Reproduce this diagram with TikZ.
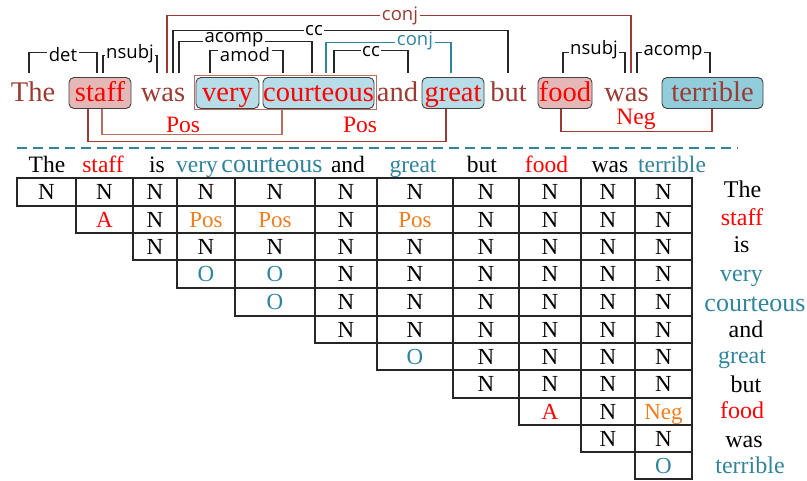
\documentclass[tikz,border=0pt]{standalone}
\usepackage{fontspec}
\setmainfont{Liberation Serif}
\newfontfamily\lblfont{Open Sans}
\usetikzlibrary{backgrounds}

\definecolor{brn}{RGB}{155,60,52}
\definecolor{brnlight}{RGB}{185,110,100}
\definecolor{pinkfill}{RGB}{229,184,183}
\definecolor{bluefill}{RGB}{183,222,232}
\definecolor{bluedark}{RGB}{146,205,220}
\definecolor{tealc}{RGB}{49,133,155}
\definecolor{orng}{RGB}{240,125,30}

% column and row boundaries of the triangular table
\def\colx{{17,76,133,177,235,315,377,453,519,581,635,692}}
\def\rowy{{178,206,233,260,288,316,343,370,398,425,452,479}}

% one row of the table: #1 = row index, #2 = list of col/text/colour
\newcommand\cellrow[2]{%
  \foreach \c/\t/\k in {#2}{
    \pgfmathsetmacro\xa{\colx[\c]}
    \pgfmathsetmacro\xb{\colx[\c+1]}
    \pgfmathsetmacro\ya{\rowy[#1]}
    \pgfmathsetmacro\yb{\rowy[#1+1]}
    \pgfmathsetmacro\cw{\xb-\xa}
    \pgfmathsetmacro\ch{\yb-\ya}
    \node[cell, minimum width=\cw pt, minimum height=\ch pt, text=\k]
      (c#1-\c) at ({(\xa+\xb)/2},{(\ya+\yb)/2}) {\t};
  }}

\begin{document}
\begin{tikzpicture}[x=1pt,y=-1pt,
  word/.style={inner sep=0pt, text height=24.5pt, text depth=6.5pt,
    font=\fontsize{28.5}{30}\selectfont, text=brn},
  wbox/.style={word, draw=black!75, line width=0.9pt, rounded corners=5pt,
    minimum width=#1},
  dep/.style={draw=black!85, line width=1.1pt},
  lbl/.style={font=\lblfont\fontsize{18.5}{19}\selectfont, fill=white,
    inner xsep=1.5pt, inner ysep=0pt, anchor=base, text=black},
  rel/.style={draw=brn, line width=1.1pt},
  rlbl/.style={font=\fontsize{23.5}{24}\selectfont, text=red, anchor=base},
  cell/.style={draw=black!85, line width=1.1pt, inner sep=0pt,
    text height=15.2pt, text depth=0pt, font=\fontsize{23}{24}\selectfont},
  hdr/.style={font=\fontsize{23.5}{25}\selectfont, anchor=base},
  side/.style={font=\fontsize{24}{25}\selectfont, anchor=base},
]
\useasboundingbox (0,0) rectangle (807,481);

% ---------- sentence ----------
\node[draw=brnlight, line width=0.7pt, minimum width=182pt, minimum height=34pt,
  inner sep=0pt] (vc) at (285,92) {};
\node[word] (w1) at (33,93) {The};
\node[wbox=62pt, fill=pinkfill, text=red] (w2) at (100,93) {staff};
\node[word] (w3) at (163,93) {was};
\node[wbox=63pt, fill=bluefill, text=red] (w4) at (227.5,93) {very};
\node[wbox=111pt, fill=bluefill, text=red] (w5) at (318.5,93) {courteous};
\node[word] (w6) at (397.5,93) {and};
\node[wbox=62pt, fill=bluefill, text=red] (w7) at (453,93) {great};
\node[word] (w8) at (508.5,93) {but};
\node[wbox=54pt, fill=pinkfill, text=red] (w9) at (565,93) {food};
\node[word] (w10) at (626.5,93) {was};
\node[wbox=101pt, fill=bluedark] (w11) at (712.5,93) {terrible};

% ---------- dependency arcs ----------
\draw[dep] ([xshift=-4pt,yshift=4pt]w1.north) -- ++(0,-20.5) -| ([xshift=-3pt,yshift=4pt]w2.north);
\draw[dep] ([xshift=3pt,yshift=4pt]w2.north) -- ++(0,-17.5) -| ([xshift=-6pt,yshift=4pt]w3.north);
\draw[dep, draw=brn] ([xshift=4pt,yshift=4pt]w3.north) -- ++(0,-57.5) -| ([xshift=4.5pt,yshift=4pt]w10.north);
\draw[dep] ([xshift=10pt,yshift=4pt]w3.north) -- ++(0,-42.5) -| ([xshift=-0.5pt,yshift=4pt]w8.north);
\draw[dep] ([xshift=16pt,yshift=4pt]w3.north) -- ++(0,-31.5) -| ([xshift=-6.5pt,yshift=4pt]w5.north);
\draw[dep] ([xshift=-17.5pt,yshift=4pt]w4.north) -- ++(0,-22.5) -| ([xshift=-35.5pt,yshift=4pt]w5.north);
\draw[dep, draw=tealc] ([xshift=7.5pt,yshift=4pt]w5.north) -- ++(0,-30.5) -| ([xshift=-2pt,yshift=4pt]w7.north);
\draw[dep] ([xshift=15.5pt,yshift=4pt]w5.north) -- ++(0,-22.5) -| ([xshift=10.5pt,yshift=4pt]w6.north);
\draw[dep] ([xshift=-2pt,yshift=4pt]w9.north) -- ++(0,-20.5) -| ([xshift=-1.5pt,yshift=4pt]w10.north);
\draw[dep] ([xshift=10.5pt,yshift=4pt]w10.north) -- ++(0,-20.5) -| ([xshift=-2.5pt,yshift=4pt]w11.north);

\node[lbl] (ldet) at (63,62) {det};
\node[lbl] (lnsubja) at (130,59) {nsubj};
\node[lbl, text=brn] (lconj) at (400,21) {conj};
\node[lbl] (lcc) at (314,36) {cc};
\node[lbl] (lacompa) at (234,42.5) {acomp};
\node[lbl] (lamod) at (245,61.5) {amod};
\node[lbl, text=tealc] (lconjb) at (415,46) {conj};
\node[lbl] (lccb) at (371,57) {cc};
\node[lbl] (lnsubjb) at (594,55) {nsubj};
\node[lbl] (lacompb) at (673,56) {acomp};

% ---------- sentiment links ----------
\draw[rel] ([xshift=-12pt]w2.south) -- ++(0,32.5) -| ([xshift=-7pt]w7.south);
\draw[rel, draw=brnlight] ([xshift=2pt]w2.south) -- ++(0,25.5) -| ([xshift=-36.5pt]w5.south);
\draw[rel] ([xshift=-4pt]w9.south) -- ++(0,22.5) -| ([xshift=-0.5pt]w11.south);
\node[rlbl] (pa) at (183,133) {Pos};
\node[rlbl] (pb) at (360,133) {Pos};
\node[rlbl] (ng) at (636,125) {Neg};

% ---------- separator ----------
\draw[tealc, line width=1.1pt, dash pattern=on 10pt off 6pt] (17,148) -- (738,148);

% ---------- column headers ----------
\node[hdr] (h0) at (47,173) {The};
\node[hdr, text=red] (h1) at (103,173) {staff};
\node[hdr] (h2) at (157,173) {is};
\node[hdr, text=tealc] (h3) at (197,173) {very};
\node[hdr, text=tealc, font=\fontsize{26}{27}\selectfont] (h4) at (272,173) {courteous};
\node[hdr] (h5) at (348,173) {and};
\node[hdr, text=tealc] (h6) at (413,173) {great};
\node[hdr] (h7) at (482,173) {but};
\node[hdr, text=red] (h8) at (546.5,173) {food};
\node[hdr] (h9) at (610,173) {was};
\node[hdr, text=tealc] (h10) at (672,173) {terrible};

% ---------- row labels ----------
\node[side] (r0) at (742.5,198) {The};
\node[side, text=red] (r1) at (742,226) {staff};
\node[side] (r2) at (741.5,253) {is};
\node[side, text=tealc] (r3) at (741.5,282) {very};
\node[side, text=tealc, font=\fontsize{26}{27}\selectfont] (r4) at (755,312) {courteous};
\node[side] (r5) at (746,338) {and};
\node[side, text=tealc] (r6) at (742,364) {great};
\node[side] (r7) at (746,392) {but};
\node[side, text=red] (r8) at (742,419) {food};
\node[side] (r9) at (744,447) {was};
\node[side, text=tealc] (r10) at (750,474) {terrible};

% ---------- table ----------
\cellrow{0}{0/N/black,1/N/black,2/N/black,3/N/black,4/N/black,5/N/black,6/N/black,7/N/black,8/N/black,9/N/black,10/N/black}
\cellrow{1}{1/A/red,2/N/black,3/Pos/orng,4/Pos/orng,5/N/black,6/Pos/orng,7/N/black,8/N/black,9/N/black,10/N/black}
\cellrow{2}{2/N/black,3/N/black,4/N/black,5/N/black,6/N/black,7/N/black,8/N/black,9/N/black,10/N/black}
\cellrow{3}{3/O/tealc,4/O/tealc,5/N/black,6/N/black,7/N/black,8/N/black,9/N/black,10/N/black}
\cellrow{4}{4/O/tealc,5/N/black,6/N/black,7/N/black,8/N/black,9/N/black,10/N/black}
\cellrow{5}{5/N/black,6/N/black,7/N/black,8/N/black,9/N/black,10/N/black}
\cellrow{6}{6/O/tealc,7/N/black,8/N/black,9/N/black,10/N/black}
\cellrow{7}{7/N/black,8/N/black,9/N/black,10/N/black}
\cellrow{8}{8/A/red,9/N/black,10/Neg/orng}
\cellrow{9}{9/N/black,10/N/black}
\cellrow{10}{10/O/tealc}
\end{tikzpicture}
\end{document}
